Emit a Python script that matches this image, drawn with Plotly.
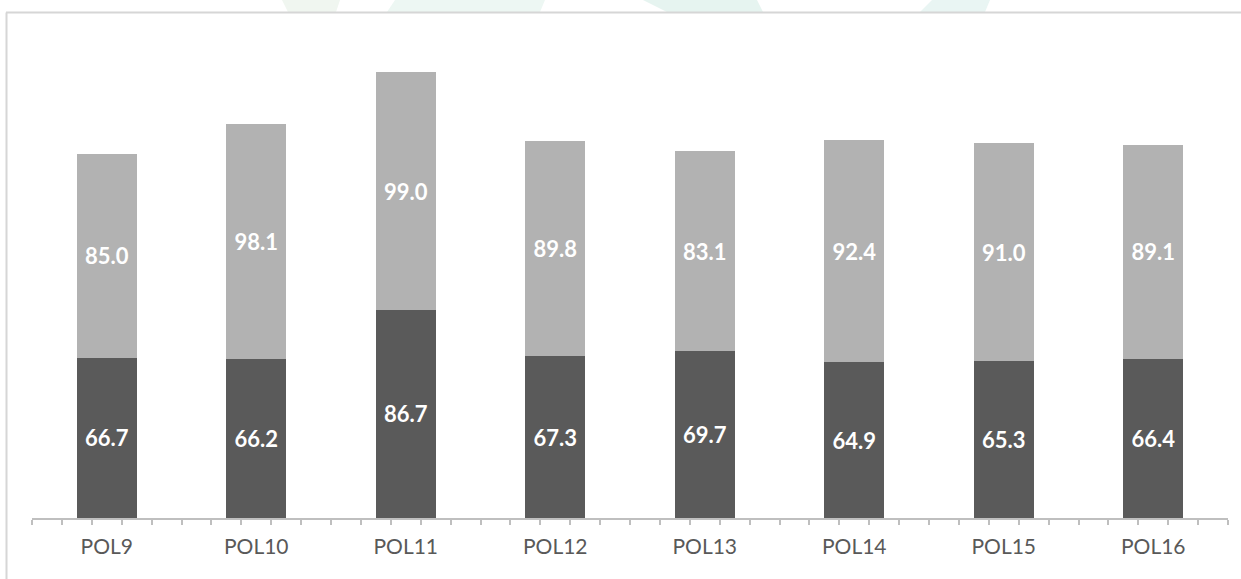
import numpy as np
import plotly.graph_objects as go

categories = ["POL9", "POL10", "POL11", "POL12", "POL13", "POL14", "POL15", "POL16"]
bottom_values = [66.7, 66.2, 86.7, 67.3, 69.7, 64.9, 65.3, 66.4]
top_values = [85.0, 98.1, 99.0, 89.8, 83.1, 92.4, 91.0, 89.1]

DARK = "#5a5a5a"
LIGHT = "#b2b2b2"
AXIS = "#bfbfbf"
FONT = "Lato"

W, H = 1241, 579
ML, MR, MT, MB = 32, 13, 38, 61
PW, PH = W - ML - MR, H - MT - MB

n = len(categories)
xpos = np.arange(n)
bounds = np.arange(n + 1) - 0.5
minor_out = np.sort(np.concatenate([xpos - 0.3, xpos + 0.3]))

label_font = dict(family=FONT, size=22, color="white", weight="bold")

fig = go.Figure()
for vals, col in ((bottom_values, DARK), (top_values, LIGHT)):
    fig.add_trace(go.Bar(
        x=xpos, y=vals, marker=dict(color=col, line=dict(width=0)),
        width=0.4, texttemplate="%{y:.1f}", textposition="inside",
        insidetextanchor="middle", textangle=0, textfont=label_font,
        constraintext="none", hoverinfo="skip", showlegend=False,
    ))


def px(x):
    return (x - ML) / PW


def py(y):
    return (H - MB - y) / PH


def poly(pts, color):
    path = "M " + " L ".join(f"{px(a):.5f},{py(b):.5f}" for a, b in pts) + " Z"
    return dict(type="path", xref="paper", yref="paper", path=path,
                fillcolor=color, line=dict(width=0), layer="below")


shapes = [
    poly([(282, 0), (340, 0), (336, 12), (288, 12)], "#f0f6f0"),
    poly([(395, 0), (545, 0), (540, 12), (387, 12)], "#edf7f3"),
    poly([(643, 0), (757, 0), (763, 12), (667, 12)], "#e6f4f0"),
    poly([(932, 0), (990, 0), (985, 12), (920, 12)], "#e9f5f3"),
    dict(type="line", xref="paper", yref="paper", x0=px(6), x1=px(W + 5),
         y0=py(12.5), y1=py(12.5), line=dict(color="#d6d6d6", width=2)),
    dict(type="line", xref="paper", yref="paper", x0=px(6.5), x1=px(6.5),
         y0=py(12.5), y1=py(H + 5), line=dict(color="#d6d6d6", width=2)),
]

xr = [-0.5, n - 0.5]
fig.update_layout(
    width=W, height=H, barmode="stack",
    margin=dict(l=ML, r=MR, t=MT, b=MB, autoexpand=False),
    paper_bgcolor="white", plot_bgcolor="rgba(0,0,0,0)",
    font=dict(family=FONT),
    xaxis=dict(
        range=xr, tickmode="array", tickvals=xpos, ticktext=categories,
        ticks="", showline=True, linecolor=AXIS, linewidth=1.5,
        showgrid=False, zeroline=False, automargin=False,
        tickfont=dict(family=FONT, size=21, color="#595959"),
        ticklabelstandoff=9,
        minor=dict(ticks="outside", ticklen=5, tickcolor=AXIS, tickwidth=1.5,
                   tick0=-0.5, dtick=0.2, showgrid=False),
        layer="below traces",
    ),
    xaxis2=dict(
        range=xr, overlaying="x", anchor="y", side="bottom", automargin=False,
        tickmode="array", tickvals=bounds, ticks="outside", ticklen=10,
        tickcolor=AXIS, tickwidth=1.5, showticklabels=False,
        showline=False, showgrid=False, zeroline=False,
    ),
    xaxis3=dict(
        range=xr, overlaying="x", anchor="y", side="bottom", automargin=False,
        tickmode="array", tickvals=minor_out, ticks="inside", ticklen=6,
        tickcolor=AXIS, tickwidth=1.5, showticklabels=False,
        showline=False, showgrid=False, zeroline=False,
    ),
    yaxis=dict(range=[0, 200], visible=False, showgrid=False, zeroline=False),
    shapes=shapes,
)

fig.write_html("out.html", config={"displayModeBar": False},
               post_script="document.body.style.margin='0';")
